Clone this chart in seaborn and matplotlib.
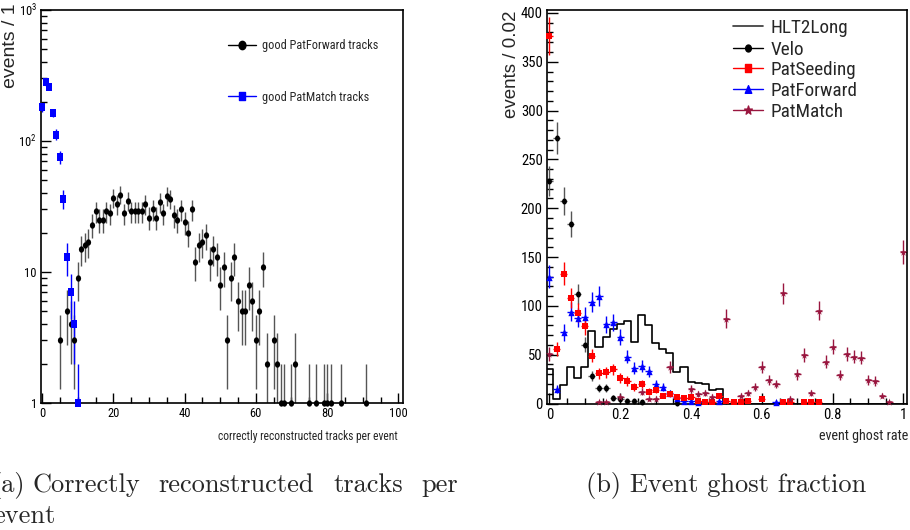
import numpy as np
import pandas as pd
import matplotlib
matplotlib.use("Agg")
import matplotlib.pyplot as plt
import seaborn as sns
from matplotlib.path import Path
from matplotlib.markers import MarkerStyle
from matplotlib.lines import Line2D
from matplotlib.ticker import MultipleLocator, LogLocator, NullFormatter

# (a) correctly reconstructed tracks per event
fwd_x = [5, 7, 8, 9, 10, 11, 12, 13, 14, 15, 16, 17, 18, 19, 20, 21, 22, 23, 24, 25,
         26, 27, 28, 29, 30, 31, 32, 33, 34, 35, 36, 37, 38, 39, 40, 41, 42, 43, 44, 45,
         46, 47, 48, 49, 50, 51, 52, 53, 54, 55, 56, 57, 58, 59, 60, 61, 62, 63, 65, 66,
         67, 68, 70, 71, 75, 77, 79, 80, 81, 84, 91]
fwd_n = [3, 5, 4, 3, 9, 15, 16, 17, 23, 29, 25, 25, 29, 28, 37, 33, 39, 28, 35, 29,
         29, 29, 29, 33, 26, 30, 26, 34, 28, 38, 36, 27, 25, 30, 24, 20, 30, 12, 16, 17,
         19, 12, 15, 13, 8, 11, 3, 9, 13, 6, 5, 5, 8, 6, 3, 5, 11, 2, 3, 2,
         1, 1, 1, 2, 1, 1, 1, 1, 1, 1, 1]
match_x = [0, 1, 2, 3, 4, 5, 6, 7, 8, 9, 10]
match_n = [181, 281, 260, 164, 112, 75, 36, 13, 7, 4, 1]

# (b) event ghost rate, bins of 0.02
hlt_x = [0.00, 0.02, 0.04, 0.06, 0.08, 0.10, 0.12, 0.14, 0.16, 0.18, 0.20, 0.22, 0.24,
         0.26, 0.28, 0.30, 0.32, 0.34, 0.36, 0.38, 0.40, 0.42, 0.44, 0.46, 0.48]
hlt_n = [35, 5, 19, 37, 26, 37, 74, 58, 68, 76, 81, 84, 63,
         91, 80, 62, 56, 52, 32, 37, 22, 21, 20, 14, 15]
velo_x = [0.00, 0.02, 0.04, 0.06, 0.08, 0.10, 0.12, 0.14, 0.16, 0.18, 0.20, 0.22, 0.24, 0.26, 0.36]
velo_n = [228, 272, 207, 184, 112, 60, 28, 16, 16, 6, 5, 3, 3, 2, 1]
seed_x = [0.00, 0.02, 0.04, 0.06, 0.08, 0.10, 0.12, 0.14, 0.16, 0.18, 0.20, 0.22, 0.24,
          0.26, 0.28, 0.30, 0.32, 0.34, 0.36, 0.38, 0.40, 0.42, 0.44, 0.46, 0.48, 0.50,
          0.52, 0.54, 0.56, 0.60, 0.66, 0.68, 0.72, 0.74, 0.76]
seed_n = [376, 56, 133, 108, 93, 79, 49, 31, 32, 35, 26, 23, 17,
          20, 12, 14, 8, 10, 7, 6, 7, 3, 2, 2, 8, 3,
          2, 2, 3, 5, 2, 2, 2, 2, 2]
pfwd_x = [0.00, 0.02, 0.04, 0.06, 0.08, 0.10, 0.12, 0.14, 0.16, 0.18, 0.20, 0.22, 0.24,
          0.26, 0.28, 0.30, 0.32, 0.34, 0.36, 0.38, 0.40, 0.42, 0.48, 0.64]
pfwd_n = [130, 15, 73, 94, 88, 89, 104, 110, 81, 83, 68, 48, 36,
          38, 33, 20, 17, 11, 6, 3, 3, 2, 3, 2]
pmatch_x = [0.00, 0.14, 0.16, 0.20, 0.26, 0.28, 0.30, 0.34, 0.40, 0.42, 0.44, 0.46, 0.50,
            0.54, 0.56, 0.58, 0.60, 0.62, 0.64, 0.66, 0.68, 0.70, 0.72, 0.74, 0.76, 0.78,
            0.80, 0.82, 0.84, 0.86, 0.88, 0.90, 0.92, 0.94, 0.96, 1.00]
pmatch_n = [51, 2, 2, 7, 12, 5, 5, 37, 15, 10, 11, 7, 87,
            8, 11, 17, 37, 24, 20, 113, 5, 30, 50, 11, 95, 43,
            58, 29, 51, 48, 47, 24, 23, 8, 2, 155]

W, H = 910, 530
c_seed, c_fwd, c_match = "#ff0000", "#0000ff", "#99163f"

sns.set_theme(style="ticks")
plt.rcParams.update({
    "xtick.direction": "in", "ytick.direction": "in",
    "axes.edgecolor": "black", "axes.linewidth": 1.2,
    "xtick.color": "black", "ytick.color": "black",
    "mathtext.default": "regular",
    "font.stretch": "condensed",
})
plt.rcParams["font.family"] = ["Roboto Condensed", "Liberation Sans Narrow", "Roboto", "DejaVu Sans"]


def squeeze(m, sx=0.8):
    # ROOT canvas was squeezed sideways, markers look a bit tall
    ms = MarkerStyle(m)
    p = ms.get_path().transformed(ms.get_transform())
    return Path(p.vertices * np.array([sx, 1.0]), p.codes)


m_circ = squeeze("o", 0.82)
m_sq = squeeze("s", 0.8)
m_tri = squeeze("^", 0.85)
m_star = squeeze("*", 0.9)


def draw(ax, x, n, color, ecolor, marker, size, xerr=None):
    n = np.asarray(n, float)
    ax.errorbar(x, n, yerr=np.sqrt(n), xerr=xerr, fmt="none", ecolor=ecolor,
                elinewidth=1.0, capsize=0, zorder=2)
    sns.scatterplot(x=x, y=n, ax=ax, marker=marker, s=size, color=color,
                    edgecolor=color, linewidth=0, clip_on=False, zorder=3, legend=False)


def px_axes(x0, y0, x1, y1):
    return [x0 / W, 1 - y1 / H, (x1 - x0) / W, (y1 - y0) / H]


fig = plt.figure(figsize=(W / 100, H / 100), dpi=100)
ax1 = fig.add_axes(px_axes(41, 10, 403, 403))
ax2 = fig.add_axes(px_axes(547, 9.5, 907, 403.5))

# ---- (a)
ax1.set_yscale("log")
draw(ax1, fwd_x, fwd_n, "black", "#555555", m_circ, 21)
draw(ax1, match_x, match_n, c_fwd, c_fwd, m_sq, 28)
ax1.set_xlim(-0.3, 101.3)
ax1.set_ylim(1, 1000)
ax1.xaxis.set_major_locator(MultipleLocator(20))
ax1.xaxis.set_minor_locator(MultipleLocator(5))
ax1.set_yticks([1, 10, 100, 1000], labels=["1", "10", "$10^{2}$", "$10^{3}$"])
ax1.yaxis.set_minor_locator(LogLocator(base=10, subs=np.arange(2, 10)))
ax1.yaxis.set_minor_formatter(NullFormatter())
ax1.tick_params(axis="both", which="major", length=7, width=1, labelsize=9, pad=3)
ax1.tick_params(axis="both", which="minor", length=4, width=1)
ax1.set_xlabel("")
ax1.set_ylabel("")
ax1.text(0.986, -0.084, "correctly reconstructed tracks per event", transform=ax1.transAxes,
         ha="right", va="center", fontsize=8.3)

# ---- (b)
hlt = pd.DataFrame({"rate": hlt_x, "events": hlt_n})
sns.histplot(data=hlt, x="rate", weights="events", binwidth=0.02, binrange=(-0.01, 1.01),
             element="step", fill=False, color="black", linewidth=1.2, ax=ax2, zorder=1)
draw(ax2, velo_x, velo_n, "black", "#555555", m_circ, 19, xerr=0.01)
draw(ax2, pfwd_x, pfwd_n, c_fwd, c_fwd, m_tri, 28, xerr=0.01)
draw(ax2, seed_x, seed_n, c_seed, c_seed, m_sq, 25, xerr=0.01)
draw(ax2, pmatch_x, pmatch_n, c_match, c_match, m_star, 34, xerr=0.01)
ax2.set_xlim(-0.007, 1.01)
ax2.set_ylim(0, 403.5)
ax2.set_xticks([0, 0.2, 0.4, 0.6, 0.8, 1.0], labels=["0", "0.2", "0.4", "0.6", "0.8", "1"])
ax2.xaxis.set_minor_locator(MultipleLocator(0.05))
ax2.yaxis.set_major_locator(MultipleLocator(50))
ax2.yaxis.set_minor_locator(MultipleLocator(10))
ax2.tick_params(axis="both", which="major", length=8, width=1, labelsize=10.5, pad=3)
ax2.tick_params(axis="both", which="minor", length=4, width=1)
ax2.set_xlabel("")
ax2.set_ylabel("")
ax2.text(1.003, -0.0825, "event ghost rate", transform=ax2.transAxes,
         ha="right", va="center", fontsize=10.2)

# y titles, clipped at the top like the original
fig.text(11 / W, 1 - 88 / H, "events / 1", rotation=90, ha="center", va="bottom",
         fontsize=14, family=["Liberation Sans", "DejaVu Sans"], stretch="normal")
fig.text(512 / W, 1 - 118 / H, "events / 0.02", rotation=90, ha="center", va="bottom",
         fontsize=13.5, family=["Liberation Sans", "DejaVu Sans"], stretch="normal")

# legends, one entry each so the rows sit where the ROOT ones do
left_leg = [
    (Line2D([], [], color="black", marker=m_circ, markersize=6, lw=1), "good PatForward tracks", 46),
    (Line2D([], [], color=c_fwd, marker=m_sq, markersize=6, lw=1), "good PatMatch tracks", 97),
]
for h, lab, yy in left_leg:
    fig.legend([h], [lab], loc="center left", bbox_to_anchor=(228 / W, 1 - yy / H),
               frameon=False, fontsize=8.8, handlelength=2.3, handletextpad=0.5,
               borderpad=0, borderaxespad=0)

right_leg = [
    (Line2D([], [], color="#333333", lw=1.2), "HLT2Long", 28),
    (Line2D([], [], color="black", marker=m_circ, markersize=5, lw=1), "Velo", 50),
    (Line2D([], [], color=c_seed, marker=m_sq, markersize=5.5, lw=1), "PatSeeding", 70),
    (Line2D([], [], color=c_fwd, marker=m_tri, markersize=5.5, lw=1), "PatForward", 91),
    (Line2D([], [], color=c_match, marker=m_star, markersize=6.5, lw=1), "PatMatch", 112),
]
for h, lab, yy in right_leg:
    fig.legend([h], [lab], loc="center left", bbox_to_anchor=(733 / W, 1 - yy / H),
               frameon=False, fontsize=13.8, handlelength=1.57, handletextpad=0.37,
               borderpad=0, borderaxespad=0)

# sub captions (the left one is cut by the page edge)
cap = dict(fontfamily="cmr10", fontsize=19, va="baseline", ha="left")
for word, xx in [("(a)", -9), ("Correctly", 32), ("reconstructed", 158), ("tracks", 333), ("per", 421)]:
    fig.text(xx / W, 1 - 492 / H, word, **cap)
fig.text(-7 / W, 1 - 523 / H, "event", **cap)
fig.text(586 / W, 1 - 492 / H, "(b) Event ghost fraction", **cap)

fig.savefig("out.png", dpi=100)
